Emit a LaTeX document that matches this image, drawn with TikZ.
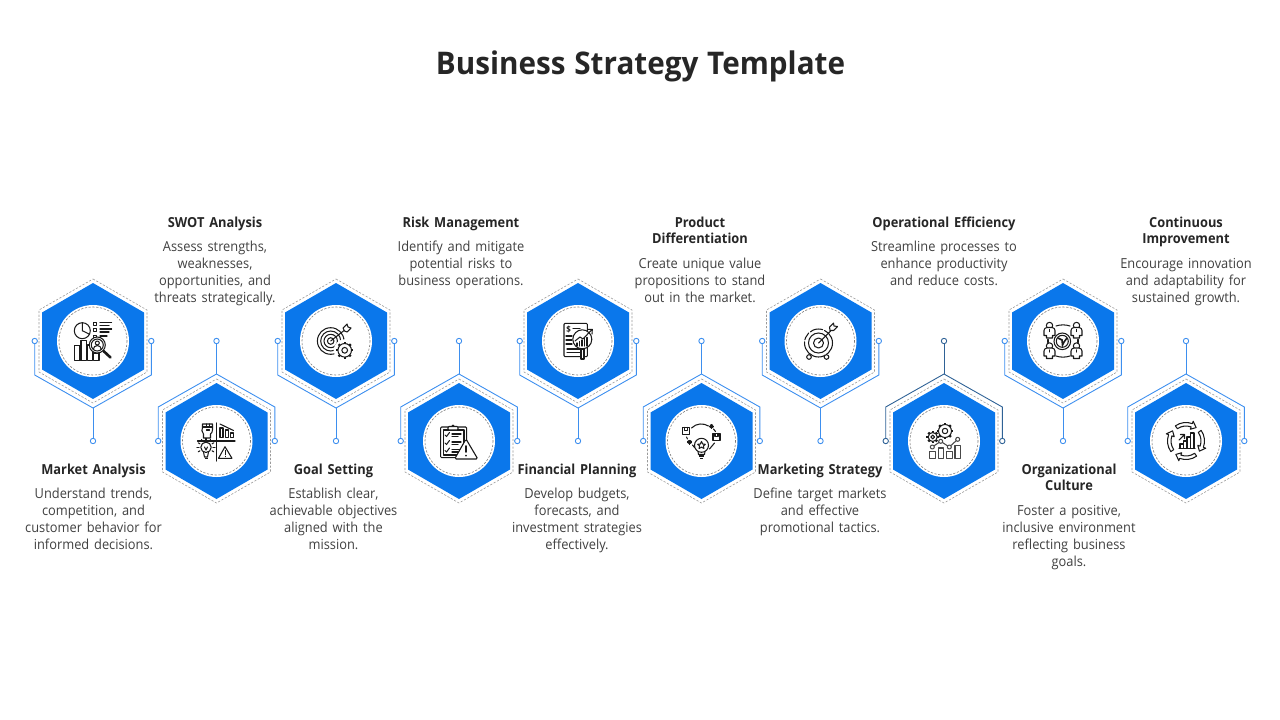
\documentclass[tikz,border=0pt]{standalone}
\usepackage{fontspec}
\setmainfont{Open Sans}[FakeStretch=0.93,WordSpace=1.45]
\newfontfamily\titlefont{Open Sans}[FakeStretch=0.95,WordSpace=1.15]
\usetikzlibrary{calc}
\definecolor{hexblue}{HTML}{0A77EB}
\definecolor{wireblue}{HTML}{3D8FEF}
\definecolor{wiredark}{HTML}{2F6296}
\definecolor{dashgray}{HTML}{9A9A9A}
\definecolor{titleink}{HTML}{262626}
\definecolor{bodyink}{HTML}{404040}
\definecolor{icoink}{HTML}{1A1A1A}
\tikzset{
 hexfill/.style={fill=hexblue,draw=none},
 hexdash/.style={draw=dashgray,line width=.6pt,dash pattern=on 2.2pt off 1.6pt},
 disc/.style={circle,fill=white,draw=none,minimum size=72pt,inner sep=0pt},
 discdash/.style={draw=dashgray!80!black,line width=.6pt,dash pattern=on 2.2pt off 1.6pt},
 wire/.style={line width=.9pt,line join=miter},
 port/.style={circle,fill=white,line width=.9pt,minimum size=5.4pt,inner sep=0pt},
 ico/.style={draw=icoink,line width=1.05pt,line join=round,line cap=round},
 icowhite/.style={ico,fill=white},
 heading/.style={anchor=north,inner sep=0pt,align=center,text=titleink,font=\fontsize{13.8}{16}\selectfont\bfseries},
 bodytext/.style={anchor=north,inner sep=0pt,align=center,text=bodyink,font=\fontsize{13.8}{17}\selectfont},
}
\newcommand\HexCore[2]{%
 \draw[hexdash] (0,-62)--(54,-31)--(54,31)--(0,62)--(-54,31)--(-54,-31)--cycle;
 \fill[hexfill] (0,-58)--(51,-28.5)--(51,28.5)--(0,58)--(-51,28.5)--(-51,-28.5)--cycle;
 \node[disc] (#1disc) at (0,0) {};
 \draw[discdash] (0,0) circle[radius=34];
 #2}
\newcommand\UpperUnit[4]{%
 \begin{scope}[shift={(#2,341)}]
 \HexCore{#1}{#4}
 \node[port,draw=#3] (#1L) at (-58.3,0) {};
 \node[port,draw=#3] (#1R) at (58.3,0) {};
 \node[port,draw=#3] (#1S) at (0,100) {};
 \coordinate (#1V) at (0,67);
 \coordinate (#1A) at (-58.3,34);
 \coordinate (#1B) at (58.3,34);
 \draw[wire,draw=#3] (#1L)--(#1A)--(#1V)--(#1B)--(#1R);
 \draw[wire,draw=#3] (#1V)--(#1S);
 \end{scope}}
\newcommand\LowerUnit[4]{%
 \begin{scope}[shift={(#2,441)}]
 \HexCore{#1}{#4}
 \node[port,draw=#3] (#1L) at (-58.3,0) {};
 \node[port,draw=#3] (#1R) at (58.3,0) {};
 \node[port,draw=#3] (#1S) at (0,-100) {};
 \coordinate (#1V) at (0,-67);
 \coordinate (#1A) at (-58.3,-34);
 \coordinate (#1B) at (58.3,-34);
 \draw[wire,draw=#3] (#1L)--(#1A)--(#1V)--(#1B)--(#1R);
 \draw[wire,draw=#3] (#1V)--(#1S);
 \end{scope}}
\newcommand\Caption[6]{%
 \node[heading] (#1h) at (#2,#3) {#4};
 \node[bodytext] (#1b) at (#2,#5) {\rule{0pt}{12pt}#6};}
\newcommand\Gear[3]{%
 \foreach \a in {0,45,...,315}{\draw[icoink,line width=2.2pt] ($(#1,#2)+(\a:#3)$)--($(#1,#2)+(\a:#3+1.8)$);}
 \draw[icowhite] (#1,#2) circle[radius=#3];
 \draw[ico] (#1,#2) circle[radius=#3*0.42];}
\newcommand\IconMarket{%
 \draw[ico] (-10.7,-10.3) circle[radius=8];
 \draw[ico] (-10.7,-18.3)--(-10.7,-10.3)--(-3.5,-6.8);
 \foreach \yy in {-18.5,-12.2,-5.8}{\draw[ico] (.8,\yy) rectangle +(3,3);}
 \draw[ico] (7,-18.5)--(18.7,-18.5) (7,-15.5)--(16,-15.5) (7,-12)--(18.7,-12) (7,-9)--(16,-9) (7,-5)--(14,-5);
 \draw[ico] (-18.7,19.7) rectangle (-13,4.5);
 \draw[ico] (-12,19.7) rectangle (-6.5,-.5);
 \draw[ico] (-5.5,19.7) rectangle (-.5,4);
 \draw[ico] (.5,19.7) rectangle (6,12);
 \draw[icowhite] (4.3,4) circle[radius=8];
 \draw[ico] (4.3,4) circle[radius=6];
 \draw[ico] (4.3,2) circle[radius=2];
 \draw[ico] (.3,8.5) arc[start angle=180,end angle=360,radius=4];
 \draw[icoink,line width=2.6pt,line cap=round] (10.5,10)--(17.5,16.5);
}
\newcommand\IconSwot{%
 \draw[ico,line width=1.1pt] (.2,-18)--(.2,20) (-19,0)--(18.5,0);
 \draw[ico] (-13,-3)--(-13,-7) .. controls (-15,-9) and (-15,-12) .. (-14,-13)--(-14,-17)--(-4,-17)--(-4,-11) .. controls (-4,-9) and (-5,-8) .. (-6,-7)--(-6,-3)--cycle;
 \draw[ico] (-14,-14)--(-4,-14) (-10,-17)--(-10,-14) (-7,-17)--(-7,-14) (-10,-11)--(-7,-11);
 \draw[ico] (3.5,-3.5) rectangle (6.5,-13) (9,-3.5) rectangle (12,-11) (14,-3.5) rectangle (17,-8);
 \draw[ico] (3.5,-17)--(17,-10.5);
 \draw[ico] (-10.5,6.3) circle[radius=5.2];
 \draw[ico] (-13,11)--(-12,16)--(-9,16)--(-8,11) (-12,6)--(-10.5,9)--(-9,6);
 \draw[icoink,line width=1.6pt] (-12,17.5)--(-9,17.5);
 \foreach \a in {150,180,210,240,270,300,330,0,30}{\draw[ico] ($(-10.5,6.3)+(\a:7)$)--($(-10.5,6.3)+(\a:9)$);}
 \draw[ico] (8.5,5.7)--(15.5,17.3)--(2,17.3)--cycle;
 \draw[ico,line width=1.2pt] (8.7,9.5)--(8.7,13.5) (8.7,15.4)--(8.7,15.5);
}
\newcommand\IconGoal{%
 \foreach \r in {13.3,10,6.7,3.3}{\draw[ico] (-5.3,0) circle[radius=\r];}
 \draw[ico] (-5.3,0)--(10,-12);
 \draw[icowhite] (7,-13) -- (11,-17)--(12,-14)--(15,-13)--(11,-9)--(8.5,-10)--cycle;
 \fill[white] (8.7,9.3) circle[radius=11];
 \Gear{8.7}{9.3}{6.8}
}
\newcommand\IconRisk{%
 \draw[icowhite,rounded corners=1pt] (-18.3,-14) rectangle (7.7,16.7);
 \draw[ico] (-15.5,-11) rectangle (5,14);
 \draw[icowhite,rounded corners=1pt] (-11,-14.5) rectangle (-1,-11);
 \draw[ico] (-7.5,-14.5) arc[start angle=180,end angle=360,radius=1.5];
 \foreach \yy in {-6,2,9.5}{\draw[ico] (-14,\yy)--(-12.5,\yy+1.5)--(-9.5,\yy-2.5); \draw[ico] (-7,\yy-1)--(2,\yy-1) (-7,\yy+1.5)--(-1,\yy+1.5);}
 \draw[icowhite,line width=1.1pt,rounded corners=1.5pt] (7,-2)--(18.8,18)--(-4.4,18)--cycle;
 \draw[icoink,line width=1.9pt,line cap=round] (7,5)--(7,11) (7,14.6)--(7,14.7);
}
\newcommand\IconFinance{%
 \draw[icowhite,rounded corners=1pt] (-14,-17.7) rectangle (9.3,15.7);
 \node[text=icoink,inner sep=0pt,font=\fontsize{8.5}{9}\selectfont\bfseries] (dollar) at (-9.5,-11) {\$};
 \draw[ico] (-5,-12.5)--(2,-12.5) (-12,-5)--(-6,-5) (-12,-1)--(-6,-1) (-12,3)--(-6,3) (-11,8)--(2,8) (-11,11.5)--(2,11.5);
 \draw[icowhite] (4.3,-1.7) circle[radius=9.5];
 \draw[icowhite] (3,8) rectangle (6,18);
 \foreach \xx/\yy in {-1/2,1.5/.5,4/-1,6.5/-2.5,9/-3.5}{\draw[ico] (\xx,5)--(\xx,\yy);}
 \draw[ico] (-3,0)--(2,-4)--(5,-2)--(13.5,-11);
 \draw[ico] (9.5,-11.5)--(14.3,-11.7)--(14,-7);
}
\newcommand\IconProduct{%
 \draw[ico] (0,4.3) circle[radius=7];
 \draw[ico] (-3.5,10.5)--(-3,13.5)--(3,13.5)--(3.5,10.5);
 \draw[icoink,line width=1.5pt] (-2.6,15.2)--(2.6,15.2) (-1.7,17.3)--(1.7,17.3);
 \draw[ico] (0,.5)--(1.2,3)--(3.8,3.3)--(1.9,5)--(2.4,7.5)--(0,6.2)--(-2.4,7.5)--(-1.9,5)--(-3.8,3.3)--(-1.2,3)--cycle;
 \draw[ico] (-19,-13.5) rectangle (-12,-6.5) (11.5,-7.5) rectangle (18.5,-.5);
 \draw[ico] (-17,-13.5)--(-17,-10.5)--(-14,-10.5)--(-14,-13.5) (13.5,-7.5)--(13.5,-4.5)--(16.5,-4.5)--(16.5,-7.5);
 \draw[ico] (-10,-13) .. controls (-5,-18) and (2,-18) .. (7,-15);
 \draw[ico] (12,-12)--(14,-9.5) (-15,-4)--(-14,-2) (-9,4)--(-7,6.5) (8,8)--(13,2);
 \foreach \p/\q in {10/-14.7,-12/1}{\draw[icoink,line width=1.2pt] (\p-2.5,\q)--(\p+2.5,\q) (\p,\q-2.5)--(\p,\q+2.5); \draw[icoink,line width=1.2pt] (\p-1.5,\q-1.5)--(\p+1.5,\q+1.5) (\p-1.5,\q+1.5)--(\p+1.5,\q-1.5);}
}
\newcommand\IconTarget{%
 \draw[ico,dash pattern=on 13pt off 2pt on 30pt off 2pt on 8pt off 2pt] (-2,2) circle[radius=14];
 \draw[ico] (-2,2) circle[radius=10];
 \draw[ico] (-2,2) circle[radius=5];
 \draw[ico] (-2,2)--(10,-10);
 \draw[ico] (9,-14)--(13,-18)--(13.5,-15)--(17,-14.5)--(13,-10.5)--(9.5,-10.5)--cycle;
 \draw[icowhite] (-11.5,16) circle[radius=2.3] (6,16) circle[radius=2.3];
}
\newcommand\IconMarketing{%
 \Gear{1}{-10}{6.5}
 \Gear{-11.3}{-4}{4.5}
 \draw[ico,draw=icoink!80] (-14.7,17.7) rectangle (-8.7,10.3) (-5.7,17.7) rectangle (-.7,7) (2.7,17.7) rectangle (8.3,10.3) (11,17.7) rectangle (16.7,4.3);
 \draw[ico,draw=icoink!80] (-11.7,6)--(-3.3,.3)--(5.3,6)--(13.7,-1.7);
 \foreach \p/\q in {-11.7/6,-3.3/.3,5.3/6,13.7/-1.7}{\draw[icowhite,draw=icoink!80] (\p,\q) circle[radius=2];}
}
\newcommand\Person[2]{%
 \draw[ico] (#1,#2-5) circle[radius=3.2];
 \draw[icowhite] (#1-5.5,#2+5) -- (#1-5.5,#2) arc[start angle=180,end angle=270,radius=3] -- (#1+2.5,#2-3) arc[start angle=270,end angle=360,radius=3] -- (#1+5.5,#2+5) -- (#1+3,#2+5) -- (#1+3,#2+7.5) -- (#1-3,#2+7.5) -- (#1-3,#2+5) -- cycle;
 \draw[ico] (#1,#2-1) -- (#1,#2+1);}
\newcommand\IconOrg{%
 \draw[ico] (-.7,.3) circle[radius=8.3];
 \draw[ico] (-.7,.3) circle[radius=6];
 \draw[icoink,line width=1.6pt] (-5,-3)--(-1,-1)--(-.5,4)--(1,1)--(4,-3);
 \Person{-13.5}{-10.5}
 \Person{13.5}{-10.5}
 \Person{-13.5}{10}
 \Person{13.5}{10}
 \draw[ico] (-7,-15) .. controls (-3,-16.5) and (3,-16.5) .. (7,-15);
 \draw[ico] (-7,15) .. controls (-3,16.5) and (3,16.5) .. (7,15);
 \draw[ico] (-15,-1.5)--(-15,1.5) (15,-1.5)--(15,1.5);
}
\newcommand\BlockArc[2]{%
 \draw[ico,fill=white] (#1:15)--(#1:18.5) arc[start angle=#1,end angle=#2,radius=18.5]--(#2:21)--(#2+17:16.8)--(#2:12.5)--(#2:15) arc[start angle=#2,end angle=#1,radius=15]--cycle;}
\newcommand\IconImprove{%
 \BlockArc{235}{290}
 \BlockArc{325}{380}
 \BlockArc{55}{110}
 \BlockArc{145}{200}
 \draw[ico] (-7,7.5)--(9,7.5);
 \draw[ico] (-6,7.5) rectangle (-2.5,3) (-2.5,7.5) rectangle (1,0) (1,7.5) rectangle (4.5,-4) (4.5,7.5) rectangle (8,-8);
 \draw[ico] (-7,-1)--(-2,-6) (-5.5,-6.5)--(-1.5,-6.5)--(-1.5,-2.5);
}
\begin{document}
\begin{tikzpicture}[x=1pt,y=-1pt]
\useasboundingbox (0,0) rectangle (1280,720);
\node[text=titleink,inner sep=0pt,font=\titlefont\fontsize{31.2}{38}\selectfont\bfseries] (maintitle) at (640.5,66) {Business Strategy Template};
\UpperUnit{a}{93}{wireblue}{\IconMarket}
\LowerUnit{b}{216.5}{wireblue}{\IconSwot}
\UpperUnit{c}{336}{wireblue}{\IconGoal}
\LowerUnit{d}{459}{wireblue}{\IconRisk}
\UpperUnit{e}{578}{wireblue}{\IconFinance}
\LowerUnit{f}{701.5}{wireblue}{\IconProduct}
\UpperUnit{g}{820.5}{wireblue}{\IconTarget}
\LowerUnit{h}{944}{wiredark}{\IconMarketing}
\UpperUnit{i}{1063}{wireblue}{\IconOrg}
\LowerUnit{j}{1186}{wireblue}{\IconImprove}
\Caption{ca}{93.5}{464}{Market Analysis}{486}{Understand trends,\\competition, and\\customer behavior for\\informed decisions.}
\Caption{cb}{215}{217}{SWOT Analysis}{239}{Assess strengths,\\weaknesses,\\opportunities, and\\threats strategically.}
\Caption{cc}{333.5}{464}{Goal Setting}{486}{Establish clear,\\achievable objectives\\aligned with the\\mission.}
\Caption{cd}{461}{217}{Risk Management}{239}{Identify and mitigate\\potential risks to\\business operations.}
\Caption{ce}{577}{464}{Financial Planning}{486}{Develop budgets,\\forecasts, and\\investment strategies\\effectively.}
\Caption{cf}{700}{217}{Product\\Differentiation}{256}{Create unique value\\propositions to stand\\out in the market.}
\Caption{cg}{820}{464}{Marketing Strategy}{486}{Define target markets\\and effective\\promotional tactics.}
\Caption{ch}{944}{217}{Operational Efficiency}{239}{Streamline processes to\\enhance productivity\\and reduce costs.}
\Caption{ci}{1069}{464}{Organizational\\Culture}{503}{Foster a positive,\\inclusive environment\\reflecting business\\goals.}
\Caption{cj}{1186}{217}{Continuous\\Improvement}{256}{Encourage innovation\\and adaptability for\\sustained growth.}
\end{tikzpicture}
\end{document}
